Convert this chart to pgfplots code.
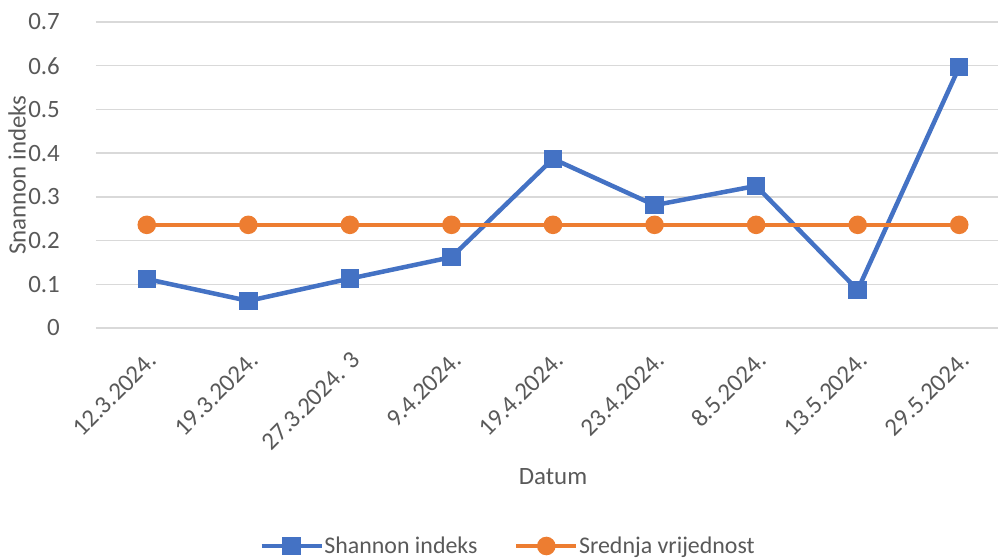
\documentclass[border=0pt]{standalone}
\usepackage{pgfplots}
\pgfplotsset{compat=1.18}
\usepackage{fontspec}
\setmainfont{Carlito}
\definecolor{sblue}{HTML}{4472C4}
\definecolor{sorange}{HTML}{ED7D31}
\definecolor{txt}{HTML}{595959}
\definecolor{grd}{HTML}{D9D9D9}
\begin{document}
\begin{tikzpicture}
\path[use as bounding box] (-96bp,-230bp) rectangle (902bp,328bp);
\begin{axis}[
  scale only axis,
  width=914bp, height=306bp,
  xmin=-0.5, xmax=8.5,
  ymin=0, ymax=0.7,
  ytick={0,0.1,0.2,0.3,0.4,0.5,0.6,0.7},
  xtick={0,1,2,3,4,5,6,7,8},
  xticklabels={12.3.2024.,19.3.2024.,27.3.2024. 3,9.4.2024.,19.4.2024.,23.4.2024.,8.5.2024.,13.5.2024.,29.5.2024.},
  axis line style={draw=none},
  major tick length=0pt,
  ymajorgrids,
  grid style={grd, line width=1.3bp},
  /pgf/number format/assume math mode=true,
  yticklabel style={/pgf/number format/fixed, /pgf/number format/precision=1},
  font=\fontsize{25}{30}\selectfont,
  tick label style={txt, font=\fontsize{25}{30}\selectfont},
  yticklabel style={anchor=east, inner sep=0pt, xshift=-36bp},
  xticklabel style={inner sep=0pt, xshift=6bp, yshift=-28bp, rotate=45, anchor=east},
  xlabel={Datum},
  ylabel={Snannon indeks},
  label style={txt, font=\fontsize{25}{30}\selectfont},
  xlabel style={at={(axis description cs:0.5,0)}, anchor=center, yshift=-149bp},
  ylabel style={at={(axis description cs:0,0.5)}, anchor=center, yshift=79bp},
  legend columns=2,
  legend style={draw=none, fill=none, at={(axis description cs:0.45,0)}, anchor=center, yshift=-218bp,
    font=\fontsize{24}{28}\selectfont, text=txt,
    nodes={inner xsep=0.5bp},
    /tikz/every even column/.append style={column sep=36bp}},
  legend image code/.code={\draw[mark repeat=2,mark phase=2] plot coordinates {(0bp,0bp)(30bp,0bp)(60bp,0bp)};},
]
\addplot[sblue, line width=4.5bp, mark=square*, mark size=7bp, mark options={solid}] coordinates {
(0,0.112) (1,0.062) (2,0.113) (3,0.162) (4,0.387) (5,0.281) (6,0.325) (7,0.087) (8,0.597)};
\addlegendentry{Shannon indeks}
\addplot[sorange, line width=4.5bp, mark=*, mark size=7bp, mark options={solid}] coordinates {
(0,0.236) (1,0.236) (2,0.236) (3,0.236) (4,0.236) (5,0.236) (6,0.236) (7,0.236) (8,0.236)};
\addlegendentry{Srednja vrijednost}
\end{axis}
\end{tikzpicture}
\end{document}
